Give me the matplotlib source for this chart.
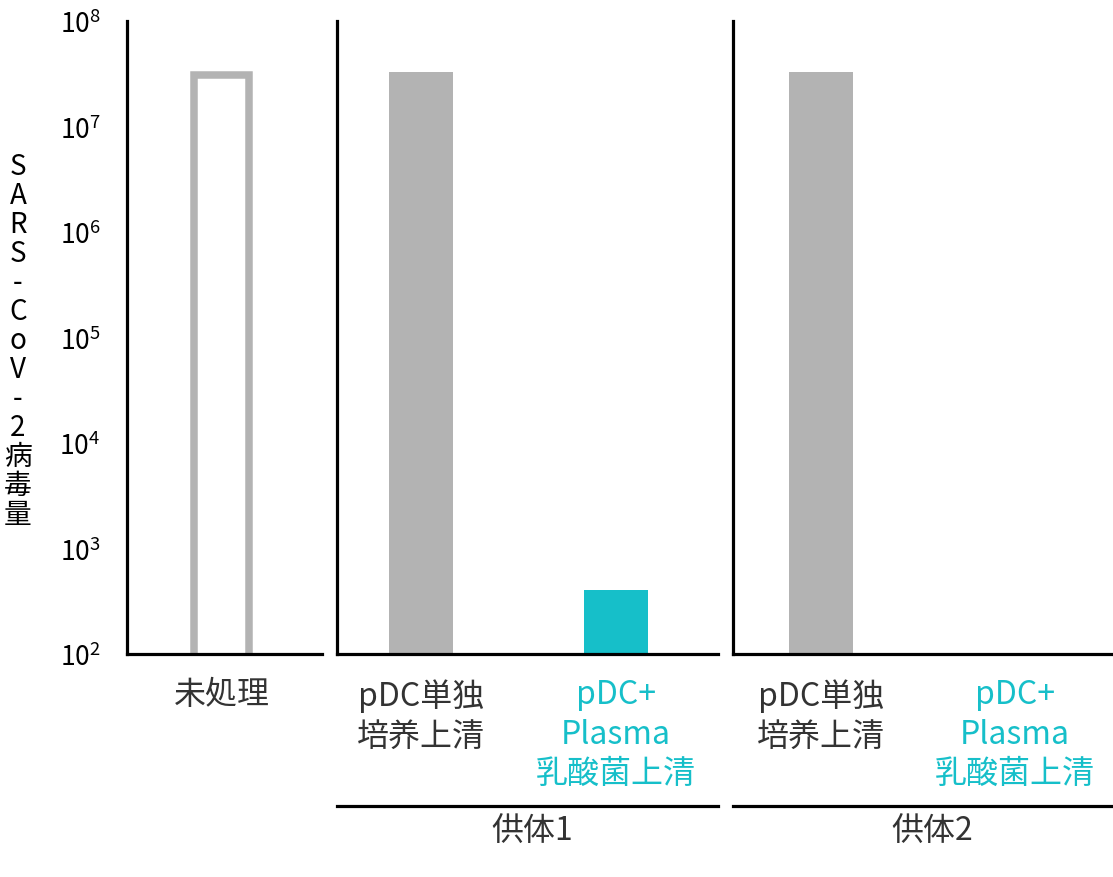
import numpy as np
import matplotlib.pyplot as plt
from matplotlib.lines import Line2D
from matplotlib.ticker import NullLocator

plt.rcParams['font.family'] = ['Noto Sans CJK JP', 'DejaVu Sans']
plt.rcParams['mathtext.fontset'] = 'custom'
plt.rcParams['mathtext.rm'] = 'Noto Sans CJK JP'
plt.rcParams['mathtext.it'] = 'Noto Sans CJK JP'

# data
untreated_label = ['未処理']
untreated_value = [3.1e7]
group_labels = ['pDC単独\n培养上清', 'pDC+\nPlasma\n乳酸菌上清']
donor_names = ['供体1', '供体2']
donor1_values = [3.3e7, 4.0e2]
donor2_values = [3.3e7, None]   # nothing drawn for the 2nd sample
ytick_exp = [2, 3, 4, 5, 6, 7, 8]
ylabel = 'SARS-CoV-2病毒量'

GRAY = '#b3b3b3'
CYAN = '#16bfc9'
TXT = '#333333'
bar_colors = [GRAY, CYAN]

W, H = 1113, 878
fig = plt.figure(figsize=(W / 100, H / 100), dpi=100)


def box(x0, x1, ytop=22, ybot=655):
    return [x0 / W, 1 - ybot / H, (x1 - x0) / W, (ybot - ytop) / H]


def style(ax):
    ax.set_yscale('log')
    ax.set_ylim(1e2, 1e8)
    for s in ['top', 'right']:
        ax.spines[s].set_visible(False)
    for s in ['left', 'bottom']:
        ax.spines[s].set_linewidth(2.3)
        ax.spines[s].set_color('black')
    ax.set_yticks([10.0 ** e for e in ytick_exp])
    ax.set_yticklabels(['$\\mathregular{10^{%d}}$' % e for e in ytick_exp])
    ax.yaxis.set_minor_locator(NullLocator())
    ax.tick_params(axis='y', length=0, pad=19, labelsize=19)
    ax.tick_params(axis='x', length=0, pad=17.5, labelsize=23, labelcolor=TXT)


ax0 = fig.add_axes(box(127, 322))
ax1 = fig.add_axes(box(337, 718))
ax2 = fig.add_axes(box(733, 1113))

# untreated panel
style(ax0)
ax0.bar([0], [v - 10 for v in untreated_value], bottom=10, width=0.286,
        facecolor='white', edgecolor=GRAY, linewidth=5.4)
ax0.set_xlim(-0.485, 0.515)
ax0.set_xticks([0])
ax0.set_xticklabels(untreated_label)

# donor panels
for ax, vals, lim in zip([ax1, ax2], [donor1_values, donor2_values],
                         [(-0.43, 1.523), (-0.454, 1.505)]):
    style(ax)
    for i, v in enumerate(vals):
        if v is None:
            continue
        ax.bar(i, v - 10, bottom=10, width=0.33, color=bar_colors[i], linewidth=0)
    ax.set_xlim(*lim)
    ax.set_xticks([0, 1])
    ax.set_xticklabels(group_labels, linespacing=1.3)
    ax.get_xticklabels()[1].set_color(CYAN)
    ax.set_yticklabels([])

# donor brackets
for ax, name, off in zip([ax1, ax2], donor_names, [0.512, 0.524]):
    pos = ax.get_position()
    fig.add_artist(Line2D([pos.x0, pos.x1], [1 - 807 / H] * 2, color='black', lw=2.3))
    fig.text(pos.x0 + off * pos.width, 1 - 832 / H, name, ha='center', va='center',
             fontsize=23, color=TXT)

# stacked y label
fig.text(18 / W, 1 - 341 / H, '\n'.join(ylabel), ha='center', va='center',
         fontsize=20, linespacing=0.96, color='black')

fig.savefig('out.png', dpi=100)
